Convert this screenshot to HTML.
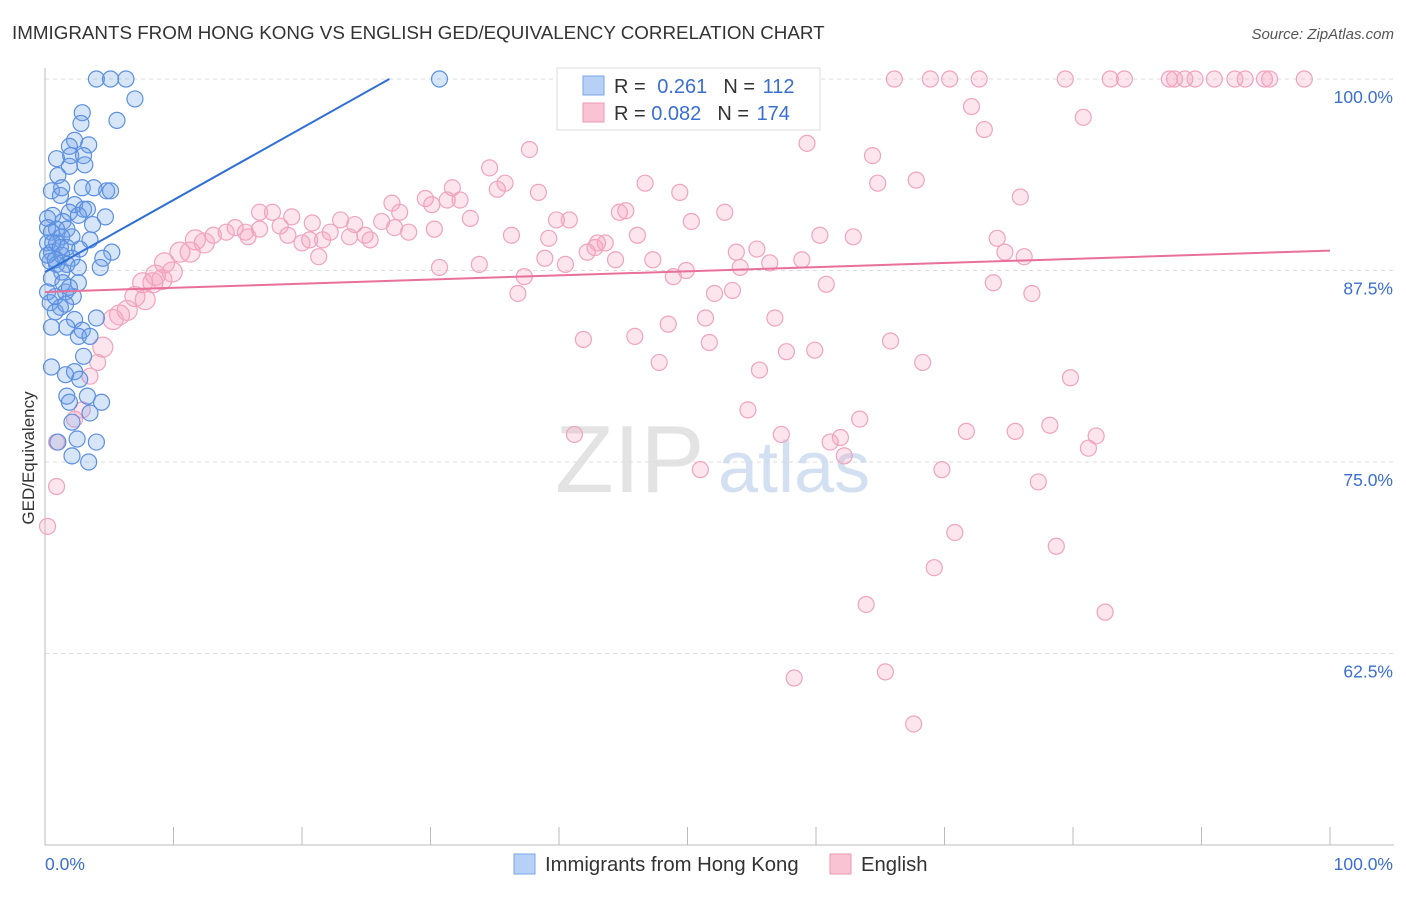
<!DOCTYPE html>
<html><head><meta charset="utf-8"><style>
body{margin:0;background:#fff;font-family:"Liberation Sans",sans-serif;}
svg text{font-family:"Liberation Sans",sans-serif;}
</style></head><body>
<svg id="chart" width="1406" height="892" xmlns="http://www.w3.org/2000/svg">
<text x="12" y="39" font-size="18.8" fill="#333">IMMIGRANTS FROM HONG KONG VS ENGLISH GED/EQUIVALENCY CORRELATION CHART</text>
<text x="1394" y="39" font-size="15" fill="#555" text-anchor="end" font-style="italic">Source: ZipAtlas.com</text>
<text transform="translate(34,458) rotate(-90)" font-size="17" fill="#333" text-anchor="middle">GED/Equivalency</text>
<g id="grid"></g>
<g id="axes"></g>
<text x="555" y="492" font-size="96" fill="#ddd" font-family="Liberation Serif" opacity="0.8">ZIP</text>
<text x="718" y="492" font-size="72" fill="#c9d9ef" opacity="0.8">atlas</text>
<g id="pink"></g>
<g id="blue"></g>
<g id="lines"></g>
<g>
<rect x="557" y="68" width="263" height="62" fill="#fff" stroke="#ddd"/>
<rect x="583" y="76" width="21" height="19" fill="#b7d0f5" stroke="#7aa5e6"/>
<rect x="583" y="103" width="21" height="19" fill="#f9c3d3" stroke="#ee9ab6"/>
<text x="614" y="93" font-size="20" fill="#333">R = <tspan fill="#3a6fd0" dx="6">0.261</tspan><tspan fill="#333" dx="16">N = </tspan><tspan fill="#3a6fd0" dx="2">112</tspan></text>
<text x="614" y="120" font-size="20" fill="#333">R = <tspan fill="#3a6fd0">0.082</tspan><tspan fill="#333" dx="16">N = </tspan><tspan fill="#3a6fd0" dx="2">174</tspan></text>
</g>
<g>
<rect x="514" y="854" width="21" height="20" fill="#b7d0f5" stroke="#7aa5e6"/>
<text x="545" y="871" font-size="20.3" fill="#333">Immigrants from Hong Kong</text>
<rect x="830" y="854" width="21" height="20" fill="#f9c3d3" stroke="#ee9ab6"/>
<text x="861" y="871" font-size="20.3" fill="#333">English</text>
</g>
</svg>
<script>
const yTicks=[62.5,75,87.5,100];
const yTickLabels=["62.5%","75.0%","87.5%","100.0%"];
const xLabels=["0.0%","100.0%"];
const blueX=[4.0,5.1,6.3,30.7,7.0,5.6,2.9,2.8,2.3,3.4,1.9,0.9,2.0,3.0,1.9,1.0,3.1,0.5,1.3,2.9,3.8,4.8,5.1,1.2,2.3,1.9,3.0,3.3,0.6,2.6,4.7,0.2,1.4,3.7,0.2,0.9,1.7,0.5,1.3,2.1,3.5,0.2,0.9,1.7,2.7,5.2,0.5,1.3,2.1,4.5,0.4,0.9,1.7,2.6,4.3,1.3,0.5,2.6,0.2,1.6,2.2,0.4,1.2,0.8,4.0,2.3,0.5,1.7,2.9,2.6,3.5,3.0,0.5,1.6,2.3,2.7,1.7,3.3,4.4,1.9,3.5,2.1,1.0,2.5,4.0,2.1,3.4,0.6,1.2,0.2,0.8,1.4,1.9,0.8,1.6];
const blueY=[100,100,100,100,98.7,97.3,97.8,97.1,96.0,95.7,95.6,94.8,95.0,95.0,94.3,93.7,94.4,92.7,92.9,92.9,92.9,92.7,92.7,92.4,91.8,91.3,91.5,91.5,91.1,91.1,91.0,90.9,90.7,90.5,90.3,90.2,90.2,90.0,89.7,89.7,89.5,89.3,89.3,89.0,88.9,88.7,88.7,88.5,88.3,88.3,88.1,87.9,87.9,87.7,87.7,87.4,87.0,86.7,86.1,86.1,85.8,85.4,85.1,84.8,84.4,84.3,83.8,83.8,83.6,83.2,83.2,81.9,81.2,80.7,80.9,80.4,79.3,79.3,78.9,78.9,78.2,77.6,76.3,76.5,76.3,75.4,75.0,89.3,89.0,88.5,88.2,86.7,86.4,85.8,85.3];
const pinkX=[66.1,68.9,70.4,72.7,79.4,82.9,84.0,87.5,87.9,88.7,89.5,91.0,92.6,93.4,94.9,95.3,98.0,72.1,80.8,73.1,59.3,37.7,64.4,34.6,46.7,35.8,64.8,67.8,31.7,35.2,38.4,49.4,29.6,75.9,31.3,32.3,27.0,27.6,30.1,44.7,45.2,52.9,16.7,19.2,17.7,33.1,39.8,40.8,26.2,50.3,20.8,24.1,23.0,14.8,18.3,27.2,28.3,30.3,16.7,14.1,13.1,15.6,15.8,24.9,18.9,22.2,25.3,23.7,20.6,21.6,36.3,39.2,46.1,60.3,62.9,74.1,11.7,12.4,20.0,43.0,43.6,42.8,42.2,53.8,55.4,74.7,76.2,10.5,11.3,21.3,38.9,44.4,47.3,58.9,56.4,30.7,33.8,40.5,54.1,49.9,48.9,37.3,9.3,9.9,8.6,9.1,7.6,8.4,60.8,73.8,52.1,36.8,53.5,76.8,7.0,7.8,6.4,5.8,5.3,51.4,56.8,48.5,41.9,45.9,51.7,65.8,4.5,4.1,68.3,59.9,57.7,47.8,55.6,3.5,79.8,54.7,63.4,2.9,2.3,41.2,57.3,61.9,61.1,71.7,75.5,78.2,81.8,81.2,62.2,0.9,51.0,69.8,77.3,0.9,70.8,78.7,0.2,69.2,63.9,82.5,58.3,65.4,67.6];
const pinkY=[100,100,100,100,100,100,100,100,100,100,100,100,100,100,100,100,100,98.2,97.5,96.7,95.8,95.4,95.0,94.2,93.2,93.2,93.2,93.4,92.9,92.8,92.6,92.6,92.2,92.3,92.1,92.1,91.9,91.3,91.8,91.3,91.4,91.3,91.3,91.0,91.3,90.9,90.8,90.8,90.7,90.7,90.6,90.5,90.8,90.3,90.4,90.3,90.0,90.2,90.2,90.0,89.8,90.0,89.7,89.8,89.8,90.0,89.5,89.7,89.5,89.5,89.8,89.6,89.8,89.8,89.7,89.6,89.5,89.3,89.3,89.3,89.3,89.0,88.7,88.7,88.9,88.7,88.4,88.7,88.7,88.4,88.3,88.2,88.2,88.2,88.0,87.7,87.9,87.9,87.7,87.5,87.1,87.1,88.0,87.4,87.2,86.9,86.7,86.7,86.6,86.7,86.0,86.0,86.2,86.0,85.8,85.6,84.9,84.6,84.3,84.4,84.4,84.0,83.0,83.2,82.8,82.9,82.5,81.5,81.5,82.3,82.2,81.5,81.0,80.6,80.5,78.4,77.8,78.4,77.8,76.8,76.8,76.6,76.3,77.0,77.0,77.4,76.7,75.9,75.4,76.3,74.5,74.5,73.7,73.4,70.4,69.5,70.8,68.1,65.7,65.2,60.9,61.3,57.9];
const blueTrend=[87.4,100,26.8];
const pinkTrend=[86.1,88.8];
const NS="http://www.w3.org/2000/svg";
const X0=45,X1=1330,YB=845,YT=79;
const sx=v=>X0+(X1-X0)*v/100;
const sy=v=>YB-(YB-YT)*(v-50)/50;
function mk(tag,attrs,parent){const e=document.createElementNS(NS,tag);for(const k in attrs)e.setAttribute(k,attrs[k]);parent.appendChild(e);return e;}
const grid=document.getElementById('grid'),axes=document.getElementById('axes');
yTicks.forEach((t,i)=>{
 const l=mk('line',{x1:X0,x2:1394,y1:sy(t),y2:sy(t),stroke:'#ddd','stroke-dasharray':'4,4'},grid);
 
 
 const tx=mk('text',{x:1393,y:sy(t)+24,'font-size':17.5,fill:'#3a6fd0','text-anchor':'end'},axes);
 tx.textContent=yTickLabels[i];
 
 
});
mk('line',{x1:X0,x2:X0,y1:68,y2:YB,stroke:'#bbb'},axes);
mk('line',{x1:X0,x2:1394,y1:YB,y2:YB,stroke:'#bbb'},axes);
for(let i=0;i<=10;i++){const t=mk('line',{x1:sx(i*10),x2:sx(i*10),y1:YB,y2:YB-18,stroke:'#bbb'},axes);
 
 }
const xl0=mk('text',{x:45,y:870,'font-size':17.5,fill:'#3a6fd0'},axes);xl0.textContent=xLabels[0];


const xl1=mk('text',{x:1393,y:870,'font-size':17.5,fill:'#3a6fd0','text-anchor':'end'},axes);xl1.textContent=xLabels[1];


const pg=document.getElementById('pink');
pinkX.forEach((x,i)=>{const y=pinkY[i];const r=(x<13&&y>82&&y<90)?10:8;
 const c=mk('circle',{cx:sx(x),cy:sy(y),r:r,fill:'rgba(243,160,190,0.28)',stroke:'#f0a3bd','stroke-width':1.2},pg);
 
 });
const bg=document.getElementById('blue');
blueX.forEach((x,i)=>{const c=mk('circle',{cx:sx(x),cy:sy(blueY[i]),r:8,fill:'rgba(110,160,235,0.28)',stroke:'#5b8fe0','stroke-width':1.2},bg);
 
 });
const lg=document.getElementById('lines');
const bl=mk('line',{x1:sx(0),y1:sy(blueTrend[0]),x2:sx(blueTrend[2]),y2:sy(blueTrend[1]),stroke:'#2f6fd8','stroke-width':2},lg);


const pl=mk('line',{x1:sx(0),y1:sy(pinkTrend[0]),x2:sx(100),y2:sy(pinkTrend[1]),stroke:'#e8709a','stroke-width':2},lg);


</script>
</body></html>
